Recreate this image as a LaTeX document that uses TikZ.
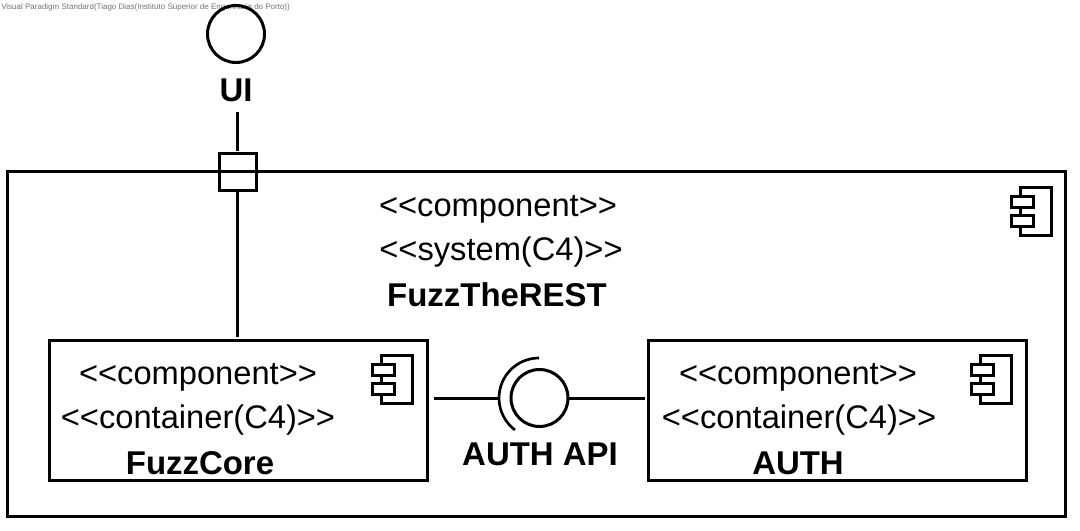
\documentclass[tikz,border=0pt]{standalone}
\usepackage{fontspec}
\setmainfont{Liberation Sans}
\begin{document}
\begin{tikzpicture}[x=0.75pt,y=-0.75pt,
  line/.style={draw=black,line width=2.25pt},
  box/.style={line,rectangle,fill=white,inner sep=0pt,outer sep=0pt,anchor=north west},
  circ/.style={line,circle,inner sep=0pt,outer sep=0pt,minimum size=42.75pt},
  lab/.style={anchor=base,inner sep=0pt,font=\fontsize{24.5}{28}\selectfont},
  blab/.style={lab,font=\fontsize{24.7}{28}\selectfont\bfseries},
  wm/.style={anchor=base west,inner sep=0pt,text=black!55,font=\fontsize{6}{8}\selectfont}]
\useasboundingbox (0,0) rectangle (1080,531);
\newcommand{\compicon}[2]{%
  \draw[line] (#1+9,#2) rectangle (#1+40,#2+48);
  \draw[line,fill=white] (#1,#2+9) rectangle (#1+22,#2+20);
  \draw[line,fill=white] (#1,#2+28) rectangle (#1+22,#2+39);
}
\node[wm] (water) at (1,10) {Visual Paradigm Standard(Tiago Dias(Instituto Superior de Engenharia do Porto))};
% outer component
\node[box,minimum width=793.5pt,minimum height=258.75pt] (sys) at (7,171) {};
\compicon{1011}{187}
\node[lab] (s1) at (498,216) {<{}<component>{}>};
\node[lab] (s2) at (501,260) {<{}<system(C4)>{}>};
\node[blab] (s3) at (497,306) {FuzzTheREST};
% inner
\node[box,minimum width=283.5pt,minimum height=105pt] (core) at (49,340) {};
\compicon{372}{355}
\node[lab] (c1) at (198,384) {<{}<component>{}>};
\node[lab] (c2) at (198,428) {<{}<container(C4)>{}>};
\node[blab] (c3) at (200,474) {FuzzCore};
\node[box,minimum width=283.5pt,minimum height=105pt] (auth) at (648,340) {};
\compicon{971}{355}
\node[lab] (a1) at (798,384) {<{}<component>{}>};
\node[lab] (a2) at (799,428) {<{}<container(C4)>{}>};
\node[blab] (a3) at (798,474) {AUTH};
% port and provided UI interface
\node[line,rectangle,inner sep=0pt,outer sep=0pt,minimum size=27.75pt] (port) at (237.5,171.5) {};
\node[circ] (ui) at (236,34) {};
\node[blab] (uil) at (236,102) {UI};
\draw[line] (ui.south) -- ++(0,2);
\draw[line,shorten <=1.5pt,shorten >=7pt] (port.north) -- (port.north |- uil.south);
\draw[line,shorten <=1.5pt,shorten >=2pt] (port.south) -- (port.south |- core.north);
% auth API
\node[circ] (api) at (539.5,398) {};
\coordinate (sock) at (499.5,398);
\draw[line width=2pt] (539,358) arc[start angle=270,end angle=127,radius=40];
\node[blab] (apil) at (540,465) {AUTH API};
\draw[line,shorten <=5pt] (core.east |- api) -- (sock);
\draw[line,shorten >=2pt] (api.east) -- (auth.west |- api);
\end{tikzpicture}
\end{document}
